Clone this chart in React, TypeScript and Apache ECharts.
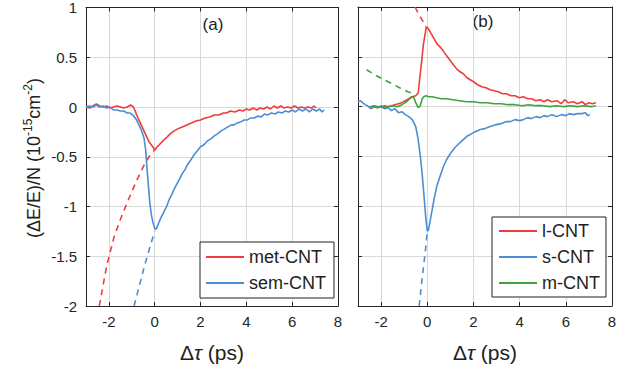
import React, { useEffect, useRef } from "react";
import * as echarts from "echarts";

// ---------- data: panel (a) ----------
const metCNT: number[][] = [
  [-3.0, 0.0], [-2.85, -0.01], [-2.7, 0.01], [-2.55, 0.03], [-2.4, 0.01], [-2.25, 0.0], [-2.1, 0.01],
  [-1.95, -0.01], [-1.8, 0.0], [-1.65, 0.01], [-1.5, 0.0], [-1.35, -0.01], [-1.2, 0.0], [-1.05, 0.02],
  [-0.93, 0.0], [-0.85, -0.04], [-0.79, -0.08], [-0.65, -0.15], [-0.49, -0.23], [-0.35, -0.3],
  [-0.25, -0.35], [-0.12, -0.39], [-0.03, -0.42], [0.02, -0.43], [0.1, -0.4], [0.2, -0.38],
  [0.4, -0.33], [0.55, -0.3], [0.67, -0.27], [0.85, -0.24], [1.0, -0.22], [1.2, -0.2],
  [1.4, -0.18], [1.6, -0.16], [1.8, -0.14], [2.0, -0.13], [2.2, -0.11], [2.4, -0.1], [2.6, -0.08],
  [2.8, -0.08], [3.0, -0.06], [3.14, -0.06], [3.3, -0.04], [3.5, -0.05], [3.7, -0.03], [3.85, -0.04],
  [4.0, -0.02], [4.15, -0.03], [4.3, -0.01], [4.45, -0.03], [4.6, -0.01], [4.75, -0.02], [4.9, 0.0],
  [5.05, -0.02], [5.2, 0.01], [5.35, -0.01], [5.5, 0.01], [5.65, -0.01], [5.8, 0.0], [5.95, -0.01],
  [6.1, 0.01], [6.25, -0.01], [6.4, 0.0], [6.55, -0.01], [6.7, 0.0], [6.85, -0.01], [6.95, 0.01], [7.05, -0.01],
];
const semCNT: number[][] = [
  [-3.0, 0.0], [-2.85, 0.01], [-2.7, 0.0], [-2.55, 0.02], [-2.4, 0.0], [-2.25, 0.01], [-2.1, -0.01],
  [-1.95, 0.0], [-1.8, -0.03], [-1.65, -0.03], [-1.5, -0.04], [-1.35, -0.04], [-1.2, -0.06],
  [-1.08, -0.06], [-0.92, -0.09], [-0.79, -0.13], [-0.67, -0.19], [-0.57, -0.24], [-0.47, -0.31],
  [-0.4, -0.42], [-0.35, -0.58], [-0.28, -0.78], [-0.22, -0.95], [-0.15, -1.08], [-0.08, -1.16],
  [0.02, -1.23], [0.08, -1.22], [0.18, -1.16], [0.3, -1.1], [0.41, -1.05], [0.52, -1.0], [0.63, -0.93],
  [0.74, -0.88], [0.84, -0.83], [0.95, -0.78], [1.07, -0.73], [1.2, -0.67], [1.32, -0.63], [1.43, -0.58],
  [1.58, -0.53], [1.72, -0.48], [1.86, -0.44], [2.0, -0.4], [2.15, -0.38], [2.3, -0.34], [2.45, -0.32],
  [2.6, -0.29], [2.74, -0.27], [2.9, -0.24], [3.05, -0.22], [3.2, -0.2], [3.35, -0.18], [3.46, -0.18],
  [3.6, -0.16], [3.75, -0.15], [3.9, -0.13], [4.05, -0.13], [4.19, -0.11], [4.35, -0.11], [4.5, -0.09],
  [4.65, -0.1], [4.8, -0.07], [4.92, -0.08], [5.1, -0.06], [5.25, -0.07], [5.4, -0.05], [5.55, -0.06],
  [5.7, -0.04], [5.85, -0.05], [6.0, -0.03], [6.15, -0.05], [6.3, -0.02], [6.45, -0.04], [6.6, -0.02],
  [6.75, -0.05], [6.9, -0.02], [7.05, -0.04], [7.2, -0.02], [7.3, -0.05], [7.4, -0.03],
];
const metFit: number[][] = [
  [-2.42, -2.0], [-2.1, -1.6], [-1.78, -1.31], [-1.5, -1.13], [-1.27, -1.0], [-1.0, -0.85],
  [-0.75, -0.72], [-0.5, -0.6], [-0.25, -0.5], [0.0, -0.43],
];
const semFit: number[][] = [
  [-0.9, -2.0], [-0.7, -1.82], [-0.45, -1.6], [-0.2, -1.4], [0.0, -1.25],
];

// ---------- data: panel (b) ----------
const lCNT: number[][] = [
  [-2.45, -0.02], [-2.3, 0.0], [-2.15, -0.01], [-2.0, 0.0], [-1.85, 0.01], [-1.7, 0.0], [-1.55, 0.01],
  [-1.4, 0.02], [-1.25, 0.03], [-1.1, 0.04], [-0.95, 0.06], [-0.8, 0.08], [-0.65, 0.1], [-0.5, 0.11],
  [-0.39, 0.14], [-0.32, 0.3], [-0.24, 0.46], [-0.17, 0.62], [-0.1, 0.72], [-0.04, 0.8], [0.02, 0.79],
  [0.1, 0.76], [0.2, 0.72], [0.3, 0.68], [0.42, 0.63], [0.55, 0.6], [0.69, 0.56], [0.84, 0.51],
  [1.0, 0.46], [1.13, 0.42], [1.27, 0.38], [1.42, 0.35], [1.56, 0.33], [1.72, 0.29], [1.86, 0.27],
  [2.0, 0.25], [2.18, 0.22], [2.36, 0.2], [2.54, 0.19], [2.72, 0.17], [2.9, 0.16], [3.08, 0.15],
  [3.26, 0.13], [3.44, 0.13], [3.62, 0.11], [3.8, 0.11], [3.98, 0.09], [4.16, 0.1], [4.34, 0.08],
  [4.52, 0.08], [4.7, 0.06], [4.89, 0.07], [5.05, 0.05], [5.2, 0.07], [5.4, 0.05], [5.61, 0.06],
  [5.8, 0.03], [5.95, 0.07], [6.1, 0.04], [6.33, 0.05], [6.5, 0.03], [6.7, 0.05], [6.85, 0.02],
  [7.0, 0.04], [7.15, 0.03], [7.3, 0.04],
];
const sCNT: number[][] = [
  [-3.0, 0.05], [-2.9, 0.06], [-2.75, 0.03], [-2.6, 0.01], [-2.45, -0.02], [-2.3, 0.0], [-2.15, -0.01],
  [-2.0, 0.01], [-1.85, -0.02], [-1.7, -0.01], [-1.55, -0.04], [-1.4, -0.02], [-1.25, -0.06],
  [-1.1, -0.05], [-0.95, -0.08], [-0.8, -0.1], [-0.65, -0.13], [-0.5, -0.2], [-0.4, -0.32],
  [-0.3, -0.5], [-0.22, -0.68], [-0.14, -0.9], [-0.07, -1.1], [0.0, -1.25], [0.05, -1.24],
  [0.12, -1.15], [0.2, -1.05], [0.3, -0.92], [0.41, -0.8], [0.55, -0.7], [0.7, -0.6], [0.84, -0.53],
  [1.0, -0.47], [1.2, -0.41], [1.42, -0.36], [1.7, -0.3], [2.0, -0.26], [2.3, -0.23], [2.5, -0.22],
  [2.72, -0.2], [3.0, -0.18], [3.2, -0.17], [3.44, -0.15], [3.6, -0.15], [3.8, -0.13], [4.0, -0.14],
  [4.16, -0.13], [4.35, -0.11], [4.5, -0.12], [4.7, -0.1], [4.89, -0.11], [5.05, -0.09], [5.2, -0.1],
  [5.4, -0.08], [5.61, -0.1], [5.8, -0.08], [6.0, -0.09], [6.15, -0.07], [6.33, -0.08], [6.5, -0.07],
  [6.7, -0.07], [6.85, -0.06], [6.95, -0.09], [7.05, -0.08],
];
const mCNT: number[][] = [
  [-2.5, 0.0], [-2.3, 0.01], [-2.1, 0.0], [-1.9, -0.01], [-1.7, 0.0], [-1.5, 0.01], [-1.3, 0.0],
  [-1.1, 0.02], [-0.95, 0.04], [-0.8, 0.07], [-0.68, 0.1], [-0.58, 0.09], [-0.48, 0.03], [-0.39, -0.01],
  [-0.3, 0.01], [-0.22, 0.08], [-0.15, 0.1], [-0.05, 0.11], [0.05, 0.1], [0.2, 0.1], [0.4, 0.09],
  [0.6, 0.08], [0.85, 0.08], [1.1, 0.07], [1.4, 0.06], [1.7, 0.05], [2.0, 0.05], [2.3, 0.04],
  [2.6, 0.04], [2.9, 0.03], [3.2, 0.03], [3.5, 0.02], [3.8, 0.02], [4.1, 0.01], [4.4, 0.02],
  [4.7, 0.01], [5.0, 0.01], [5.3, 0.0], [5.6, 0.01], [5.9, 0.0], [6.2, 0.01], [6.5, 0.0], [6.8, 0.01],
  [7.1, 0.0], [7.3, 0.01],
];
const lFit: number[][] = [[-0.53, 1.0], [-0.35, 0.92], [-0.2, 0.86], [-0.05, 0.8]];
const sFit: number[][] = [[-0.35, -2.0], [-0.25, -1.78], [-0.15, -1.58], [-0.07, -1.42], [0.0, -1.25]];
const mFit: number[][] = [
  [-2.63, 0.37], [-2.2, 0.31], [-1.7, 0.25], [-1.2, 0.19], [-0.85, 0.15], [-0.6, 0.13],
];

const legendA = ["met-CNT", "sem-CNT"];
const legendB = ["l-CNT", "s-CNT", "m-CNT"];
const panelTitles = ["(a)", "(b)"];

const RED = "#f03c3c";
const BLUE = "#4a8fd4";
const GREEN = "#3da33d";
const FONT = "'Liberation Sans', Arial, sans-serif";
const AXIS = "#262626";
const GRIDC = "#d9d9d9";

export default function App() {
  const ref = useRef<HTMLDivElement>(null);
  useEffect(() => {
    const chart = echarts.init(ref.current!, null, { renderer: "svg" });

    const grids = [
      { left: 86, top: 7, width: 252, height: 299 },
      { left: 358, top: 7, width: 254, height: 299 },
    ];
    const xBottom = (g: number) => ({
      type: "value", gridIndex: g, min: -3, max: 8, splitNumber: 5,
      axisLine: { onZero: false, lineStyle: { color: AXIS, width: 1 } },
      axisTick: { inside: true, length: 4, lineStyle: { color: AXIS } },
      axisLabel: { showMinLabel: false, fontSize: 15, color: "#262626", margin: 8, fontFamily: FONT },
      splitLine: { show: true, lineStyle: { color: GRIDC, width: 1 } },
    });
    const xTop = (g: number) => ({
      type: "value", gridIndex: g, min: -3, max: 8, splitNumber: 5, position: "top",
      axisLine: { onZero: false, lineStyle: { color: AXIS, width: 1 } },
      axisTick: { inside: true, length: 4, lineStyle: { color: AXIS } },
      axisLabel: { show: false }, splitLine: { show: false },
    });
    const yLeft = (g: number, labels: boolean) => ({
      type: "value", gridIndex: g, min: -2, max: 1, interval: 0.5,
      axisLine: { onZero: false, lineStyle: { color: AXIS, width: 1 } },
      axisTick: { inside: true, length: 4, lineStyle: { color: AXIS } },
      axisLabel: { show: labels, fontSize: 15, color: "#262626", margin: 9, fontFamily: FONT },
      splitLine: { show: true, lineStyle: { color: GRIDC, width: 1 } },
    });
    const yRight = (g: number) => ({
      type: "value", gridIndex: g, min: -2, max: 1, interval: 0.5, position: "right",
      axisLine: { onZero: false, lineStyle: { color: AXIS, width: 1 } },
      axisTick: { inside: true, length: 4, lineStyle: { color: AXIS } },
      axisLabel: { show: false }, splitLine: { show: false },
    });

    const line = (name: string, data: number[][], color: string, g: number, dashed = false) => ({
      type: "line", name, data, xAxisIndex: g, yAxisIndex: g, symbol: "none", showSymbol: false,
      silent: true, clip: true, z: dashed ? 2 : 3,
      lineStyle: { color, width: 1.6, type: dashed ? [6, 5] : "solid" },
      itemStyle: { color },
    });

    const legendCommon = {
      orient: "vertical", itemWidth: 38, itemHeight: 14, itemGap: 8,
      borderColor: "#222", borderWidth: 1, backgroundColor: "#fff",
      textStyle: { fontSize: 18, color: "#222", fontFamily: FONT },
      itemStyle: { color: "transparent", borderWidth: 0, opacity: 0 },
      selectedMode: false,
    };

    chart.setOption({
      animation: false,
      backgroundColor: "#fff",
      grid: grids,
      xAxis: [xBottom(0), xBottom(1), xTop(0), xTop(1)],
      yAxis: [yLeft(0, true), yLeft(1, false), yRight(0), yRight(1)],
      legend: [
        { ...legendCommon, data: legendA, left: 200, top: 242, padding: [6, 8, 6, 5] },
        { ...legendCommon, data: legendB, left: 492, top: 217, padding: [5, 6, 5, 6] },
      ],
      series: [
        line("met-fit", metFit, RED, 0, true),
        line("sem-fit", semFit, BLUE, 0, true),
        line(legendA[0], metCNT, RED, 0),
        line(legendA[1], semCNT, BLUE, 0),
        line("l-fit", lFit, RED, 1, true),
        line("s-fit", sFit, BLUE, 1, true),
        line("m-fit", mFit, GREEN, 1, true),
        line(legendB[0], lCNT, RED, 1),
        line(legendB[1], sCNT, BLUE, 1),
        line(legendB[2], mCNT, GREEN, 1),
      ],
      graphic: [
        {
          type: "text", x: 213, y: 24,
          style: { text: panelTitles[0], font: `17px ${FONT}`, fill: "#222", align: "center", verticalAlign: "middle" },
        },
        {
          type: "text", x: 483, y: 21,
          style: { text: panelTitles[1], font: `17px ${FONT}`, fill: "#222", align: "center", verticalAlign: "middle" },
        },
        {
          type: "text", x: 212, y: 352,
          style: {
            text: "Δ{i|τ} (ps)", fontSize: 21, fontFamily: FONT, fill: "#222", align: "center", verticalAlign: "middle",
            rich: { i: { fontSize: 21, fontFamily: FONT, fontStyle: "italic", fill: "#222" } },
          },
        },
        {
          type: "text", x: 485, y: 352,
          style: {
            text: "Δ{i|τ} (ps)", fontSize: 21, fontFamily: FONT, fill: "#222", align: "center", verticalAlign: "middle",
            rich: { i: { fontSize: 21, fontFamily: FONT, fontStyle: "italic", fill: "#222" } },
          },
        },
        {
          type: "text", x: 34, y: 158, rotation: Math.PI / 2,
          style: {
            text: "(ΔE/E)/N (10{s|-15}cm{s|-2})", fontSize: 18, fontFamily: FONT, lineHeight: 24,
            fill: "#222", align: "center", verticalAlign: "middle",
            rich: { s: { fontSize: 12, fontFamily: FONT, lineHeight: 13, verticalAlign: "top", fill: "#222" } },
          },
        },
      ],
    });
    return () => chart.dispose();
  }, []);
  return <div ref={ref} style={{ position: "fixed", left: 0, top: 0, width: 630, height: 371 }} />;
}
